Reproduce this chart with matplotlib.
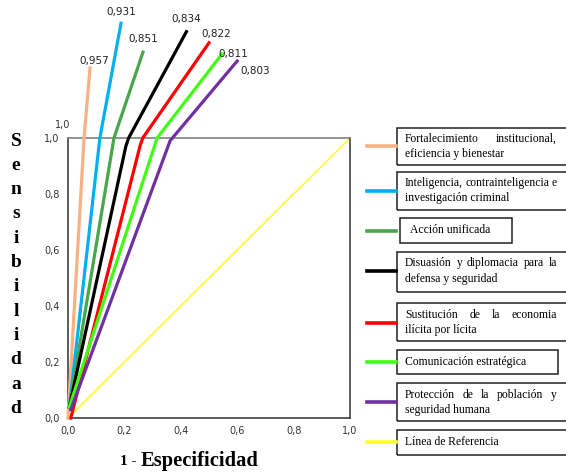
"""
ROC curves per strategic line (sensibilidad vs 1 - especificidad).
Output: out.png
"""

import matplotlib
matplotlib.use("Agg")
import matplotlib.pyplot as plt  # noqa: E402
from matplotlib.patches import Rectangle  # noqa: E402

W, H = 566, 473

# ---- data ----
names = [
    ["Fortalecimiento institucional,", "eficiencia y bienestar"],
    ["Inteligencia, contrainteligencia e", "investigación criminal"],
    ["Acción unificada"],
    ["Disuasión y diplomacia para la", "defensa y seguridad"],
    ["Sustitución de la economia", "ilícita por lícita"],
    ["Comunicación estratégica"],
    ["Protección de la población y", "seguridad humana"],
]
ref_name = "Línea de Referencia"
colors = ["#f8b183", "#00b0f0", "#4aa64a", "#000000", "#ff0000", "#40ff10", "#7030a0"]
ref_color = "#ffff20"
auc = ["0,957", "0,931", "0,851", "0,834", "0,822", "0,811", "0,803"]

# 1 - especificidad / sensibilidad for each curve (curves run past the frame)
fpr = [
    [0.0, 0.057, 0.078],
    [0.005, 0.113, 0.188],
    [0.005, 0.163, 0.266],
    [0.005, 0.205, 0.215, 0.42],
    [0.01, 0.255, 0.265, 0.50],
    [0.005, 0.316, 0.546],
    [0.01, 0.362, 0.60],
]
tpr = [
    [0.0, 1.0, 1.25],
    [0.04, 1.0, 1.41],
    [0.04, 1.0, 1.307],
    [0.04, 0.97, 1.0, 1.38],
    [0.0, 0.97, 1.0, 1.34],
    [0.04, 1.0, 1.30],
    [0.03, 0.99, 1.275],
]
ref_x = [0.0, 1.0]
ref_y = [0.0, 1.0]
ticks = [0.0, 0.2, 0.4, 0.6, 0.8, 1.0]
tick_labels = ["0,0", "0,2", "0,4", "0,6", "0,8", "1,0"]

# label offsets (points) from the end of each curve
lab_off = [(3, 1.5), (0, 4.5), (0, 5.5), (0, 5.5), (5, 2.5), (8, -3.5), (13, -10.5)]


def fx(px):
    return px / W


def fy(py):
    return 1 - py / H


fig = plt.figure(figsize=(W / 100, H / 100), dpi=100)
ax = fig.add_axes([fx(68), fy(418), 282 / W, 280 / H])

ax.plot(ref_x, ref_y, color=ref_color, lw=1.1, zorder=2)
for x, y, c in zip(fpr, tpr, colors):
    ax.plot(x, y, color=c, lw=2.3, clip_on=False, zorder=3,
            solid_joinstyle="round")
for x, y, a, off in zip(fpr, tpr, auc, lab_off):
    ax.annotate(a, (x[-1], y[-1]), xytext=off, textcoords="offset points",
                ha="center", va="bottom", fontsize=7.5, color="#222222",
                annotation_clip=False)

ax.set_xlim(0, 1)
ax.set_ylim(0, 1)
ax.set_xticks(ticks)
ax.set_xticklabels(tick_labels)
ax.set_yticks(ticks)
ax.set_yticklabels(tick_labels)
ax.tick_params(length=0, labelsize=7, colors="#333333", pad=6)
for s in ax.spines.values():
    s.set_color("#404040")
    s.set_linewidth(1.2)
ax.spines["top"].set_color("#808080")
ax.text(-0.018, 1.046, "1,0", transform=ax.transAxes, fontsize=7,
        color="#333333", ha="center", va="center")

# stacked y-label
serif = "Liberation Serif"
for i, ch in enumerate("Sensibilidad"):
    fig.text(fx(16), fy(141 + i * 24.3), ch, family=serif, weight="bold",
             fontsize=14, ha="center", va="center")
fig.text(fx(137), fy(461), "1 -", family=serif, weight="bold", fontsize=11,
         ha="right", va="center")
fig.text(fx(141), fy(461), "Especificidad", family=serif, weight="bold",
         fontsize=14.8, ha="left", va="center")

# ---- legend: separate boxes with a coloured stub on the left ----
boxes = [(397, 128, 175, 37), (397, 172, 175, 38), (400, 218, 112, 25),
         (397, 252, 175, 40), (397, 303, 175, 38), (397, 350, 161, 24),
         (397, 383, 175, 38), (397, 430, 175, 25)]
stub_y = [146, 191, 231, 271, 323, 362, 402, 442]
line_y = [[139, 154], [183, 198], [230], [263, 279], [315, 330], [362],
          [395, 410], [442]]
text_x = [405, 405, 410, 405, 405, 405, 405, 405]
right_x = 557
fs = 8.4

renderer = fig.canvas.get_renderer()
all_names = names + [[ref_name]]
all_colors = colors + [ref_color]
for k, (lines, c) in enumerate(zip(all_names, all_colors)):
    bx, by, bw, bh = boxes[k]
    fig.add_artist(Rectangle((fx(bx), fy(by + bh)), bw / W, bh / H,
                             transform=fig.transFigure, fill=False,
                             ec="#202020", lw=1.1, clip_on=False))
    fig.add_artist(plt.Line2D([fx(367), fx(396)], [fy(stub_y[k])] * 2,
                              transform=fig.transFigure, color=c, lw=2.6))
    for j, txt in enumerate(lines):
        yy = fy(line_y[k][j])
        justify = len(lines) > 1 and j < len(lines) - 1
        if not justify:
            fig.text(fx(text_x[k]), yy, txt, family=serif, fontsize=fs,
                     ha="left", va="center")
            continue
        words = txt.split()
        arts = [fig.text(0, yy, w, family=serif, fontsize=fs, ha="left",
                         va="center") for w in words]
        widths = [a.get_window_extent(renderer).width for a in arts]
        gap = (right_x - text_x[k] - sum(widths)) / (len(words) - 1)
        pos = text_x[k]
        for a, w in zip(arts, widths):
            a.set_x(fx(pos))
            pos += w + gap

fig.savefig("out.png", dpi=100)
print("wrote out.png")
